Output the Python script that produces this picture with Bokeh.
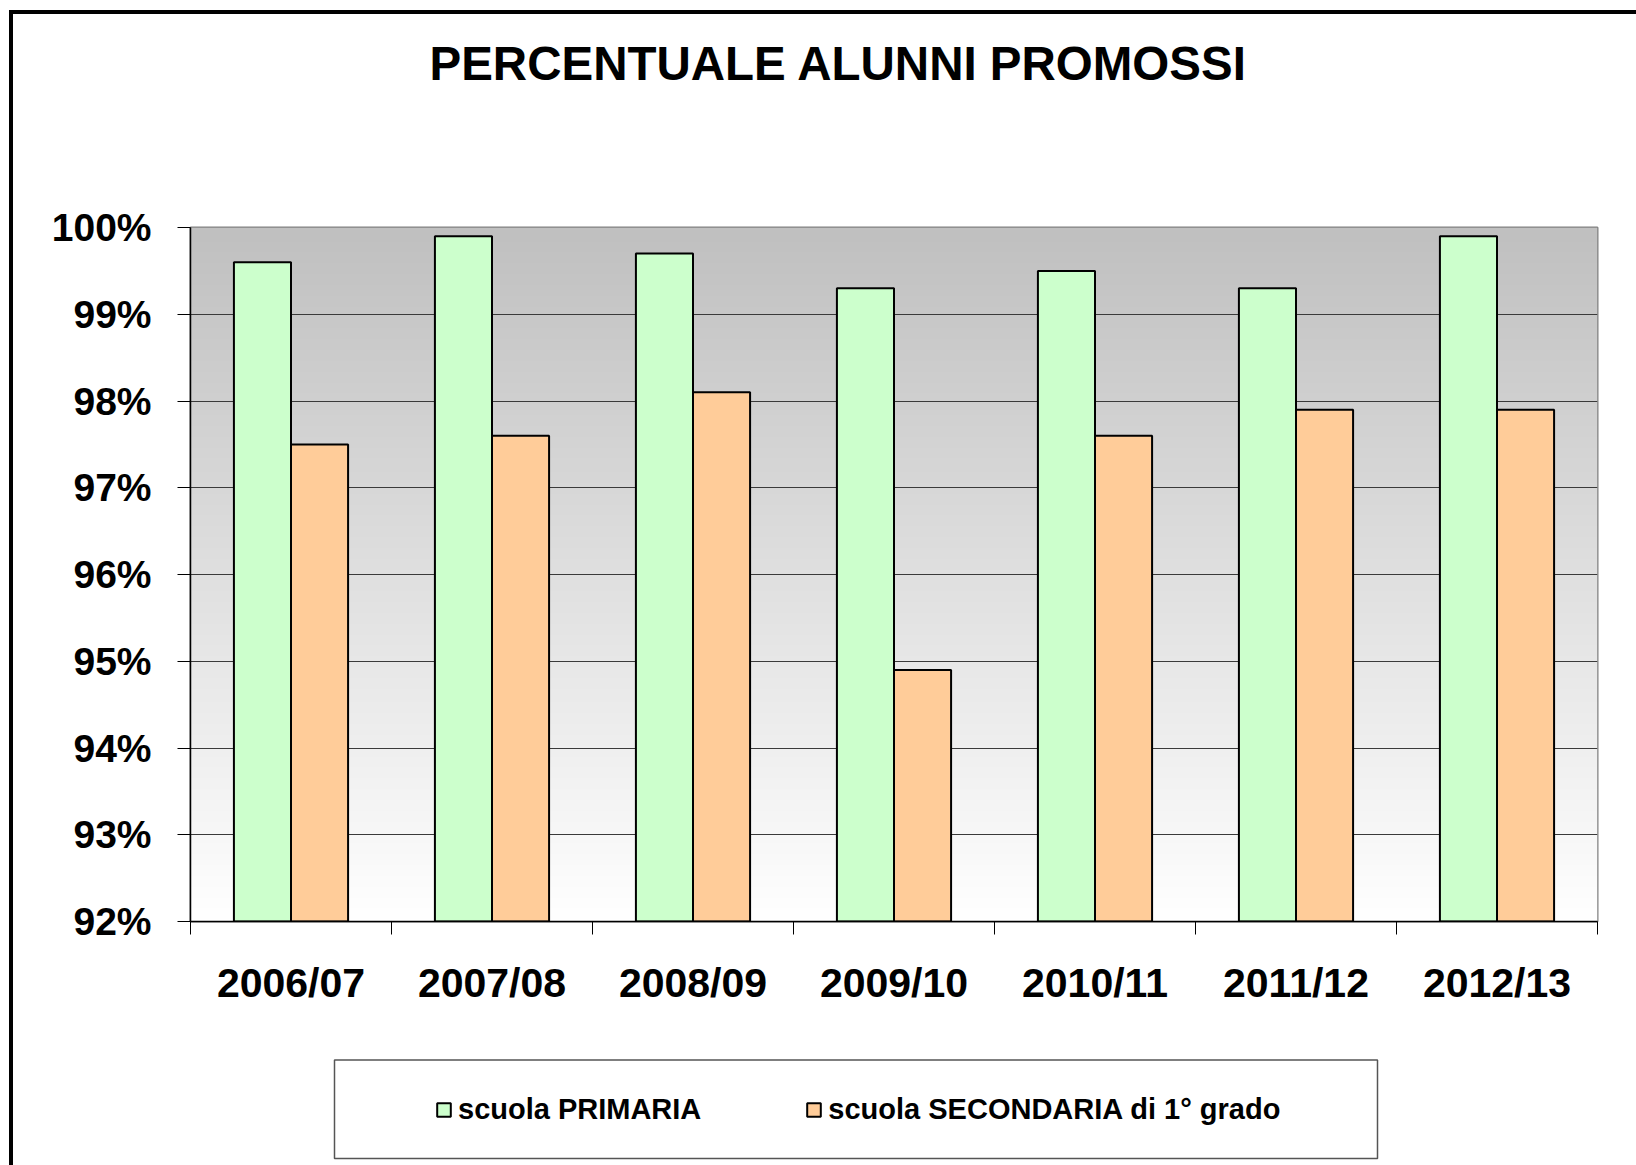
import numpy as np
from bokeh.plotting import figure
from bokeh.layouts import column
from bokeh.models import (Range1d, FixedTicker, PrintfTickFormatter, Legend, LegendItem,
                          ColumnDataSource, CustomJSTickFormatter, Title, BoxAnnotation)
from bokeh.embed import file_html
from bokeh.resources import INLINE

# ---- data ----
title_text = "PERCENTUALE ALUNNI PROMOSSI"
years = ["2006/07", "2007/08", "2008/09", "2009/10", "2010/11", "2011/12", "2012/13"]
primaria = [99.6, 99.9, 99.7, 99.3, 99.5, 99.3, 99.9]
secondaria = [97.5, 97.6, 98.1, 94.9, 97.6, 97.9, 97.9]
series_names = ["scuola PRIMARIA", "scuola SECONDARIA di 1\u00b0 grado"]
y_ticks = [92, 93, 94, 95, 96, 97, 98, 99, 100]
colors = ["#CCFFCC", "#FFCC99"]

FONT = "Liberation Sans"
ymin, ymax = y_ticks[0], y_ticks[-1]
n = len(years)
FIG_W = 1623
BL, BR = 177, 39

p = figure(width=FIG_W, height=1044, output_backend="svg", toolbar_location=None,
           x_range=Range1d(0, n), y_range=Range1d(ymin, ymax),
           min_border_left=BL, min_border_right=BR, min_border_top=213,
           min_border_bottom=137)
p.title.text = title_text
p.title.align = "left"
p.title.offset = 239
p.title.text_font = FONT
p.title.text_font_style = "bold"
p.title.text_font_size = "47.5px"
p.title.text_color = "black"
# blank spacer between title and plot area
p.add_layout(Title(text=" ", text_font_size="108px"), "above")
p.background_fill_color = "white"
p.border_fill_color = "white"
p.outline_line_color = "#808080"
p.outline_line_width = 2

# gradient plot background (grey at top -> white at bottom)
rows = 256
vals = np.linspace(255, 192, rows).astype(np.uint8)
img = np.zeros((rows, 1), dtype=np.uint32)
view = img.view(dtype=np.uint8).reshape((rows, 1, 4))
view[:, 0, 0] = vals
view[:, 0, 1] = vals
view[:, 0, 2] = vals
view[:, 0, 3] = 255
p.image_rgba(image=[img], x=0, y=ymin, dw=n, dh=ymax - ymin, level="image")

idx = np.arange(n)
bw = 0.284
src = ColumnDataSource(dict(xp=idx + 0.5 - bw / 2, xs=idx + 0.5 + bw / 2,
                            prim=primaria, sec=secondaria))
p.vbar(x="xp", top="prim", bottom=ymin, width=bw, source=src,
       fill_color=colors[0], line_color="black", line_width=2)
p.vbar(x="xs", top="sec", bottom=ymin, width=bw, source=src,
       fill_color=colors[1], line_color="black", line_width=2)

# grid
p.xgrid.visible = False
p.ygrid.ticker = FixedTicker(ticks=y_ticks)
p.ygrid.grid_line_color = "#3a3a3a"
p.ygrid.grid_line_width = 1

# x axis
p.xaxis.ticker = FixedTicker(ticks=list(idx + 0.5), minor_ticks=list(range(n + 1)))
p.xaxis.formatter = CustomJSTickFormatter(args=dict(labels=years),
                                          code="return labels[Math.floor(tick)] || ''")
p.xaxis.major_tick_out = 0
p.xaxis.major_tick_in = 0
p.xaxis.minor_tick_out = 13
p.xaxis.minor_tick_in = 0
p.xaxis.minor_tick_line_color = "black"
p.xaxis.axis_line_color = "black"
p.xaxis.axis_line_width = 1.5
p.xaxis.major_label_standoff = 25
p.xaxis.major_label_text_font = FONT
p.xaxis.major_label_text_font_style = "bold"
p.xaxis.major_label_text_font_size = "41px"
p.xaxis.major_label_text_color = "black"

# y axis
p.yaxis.ticker = FixedTicker(ticks=y_ticks, minor_ticks=[])
p.yaxis.formatter = PrintfTickFormatter(format="%d%%")
p.yaxis.major_tick_out = 13
p.yaxis.major_tick_in = 0
p.yaxis.major_tick_line_color = "black"
p.yaxis.axis_line_color = "black"
p.yaxis.axis_line_width = 1.5
p.yaxis.major_label_standoff = 26
p.yaxis.major_label_text_font = FONT
p.yaxis.major_label_text_font_style = "bold"
p.yaxis.major_label_text_font_size = "39px"
p.yaxis.major_label_text_color = "black"

# legend strip: a second figure aligned with the chart, in pixel coordinates
LH = 107
LW = FIG_W - BL - BR
lf = figure(width=FIG_W, height=LH, output_backend="svg", toolbar_location=None,
            x_range=Range1d(0, LW), y_range=Range1d(0, LH),
            x_axis_location=None, y_axis_location=None,
            min_border_left=BL, min_border_right=BR, min_border_top=0, min_border_bottom=0)
lf.grid.visible = False
lf.outline_line_color = None
lf.outline_line_alpha = 0
lf.background_fill_color = "white"
lf.border_fill_color = "white"
lf.add_layout(BoxAnnotation(left=144, right=1187, bottom=7, top=105.5,
                            fill_alpha=0, line_color="#555555", line_alpha=1.0,
                            line_width=1.5))
# legend swatches (renderers with a single NaN row, so nothing is drawn in the frame)
dummy = ColumnDataSource(dict(x=np.array([np.nan]), top=np.array([np.nan]),
                              bottom=np.array([np.nan])))
lr1 = lf.vbar(x="x", top="top", bottom="bottom", width=1, source=dummy,
              fill_color=colors[0], line_color="black", line_width=2)
lr2 = lf.vbar(x="x", top="top", bottom="bottom", width=1, source=dummy,
              fill_color=colors[1], line_color="black", line_width=2)
legend = Legend(items=[LegendItem(label=series_names[0], renderers=[lr1]),
                       LegendItem(label=series_names[1], renderers=[lr2])],
                orientation="horizontal", location=(245, 39), padding=0, spacing=104,
                glyph_width=17, glyph_height=17, label_standoff=6, label_height=17,
                label_text_font=FONT, label_text_font_style="bold",
                label_text_font_size="29px", label_text_color="black",
                border_line_alpha=0, background_fill_alpha=0, margin=0)
lf.add_layout(legend, "center")

layout = column(p, lf, spacing=0, margin=(10, 0, 0, 9),
                styles={"border-left": "4px solid black", "border-top": "4px solid black"})

open("out.html", "w").write(file_html(layout, INLINE))
